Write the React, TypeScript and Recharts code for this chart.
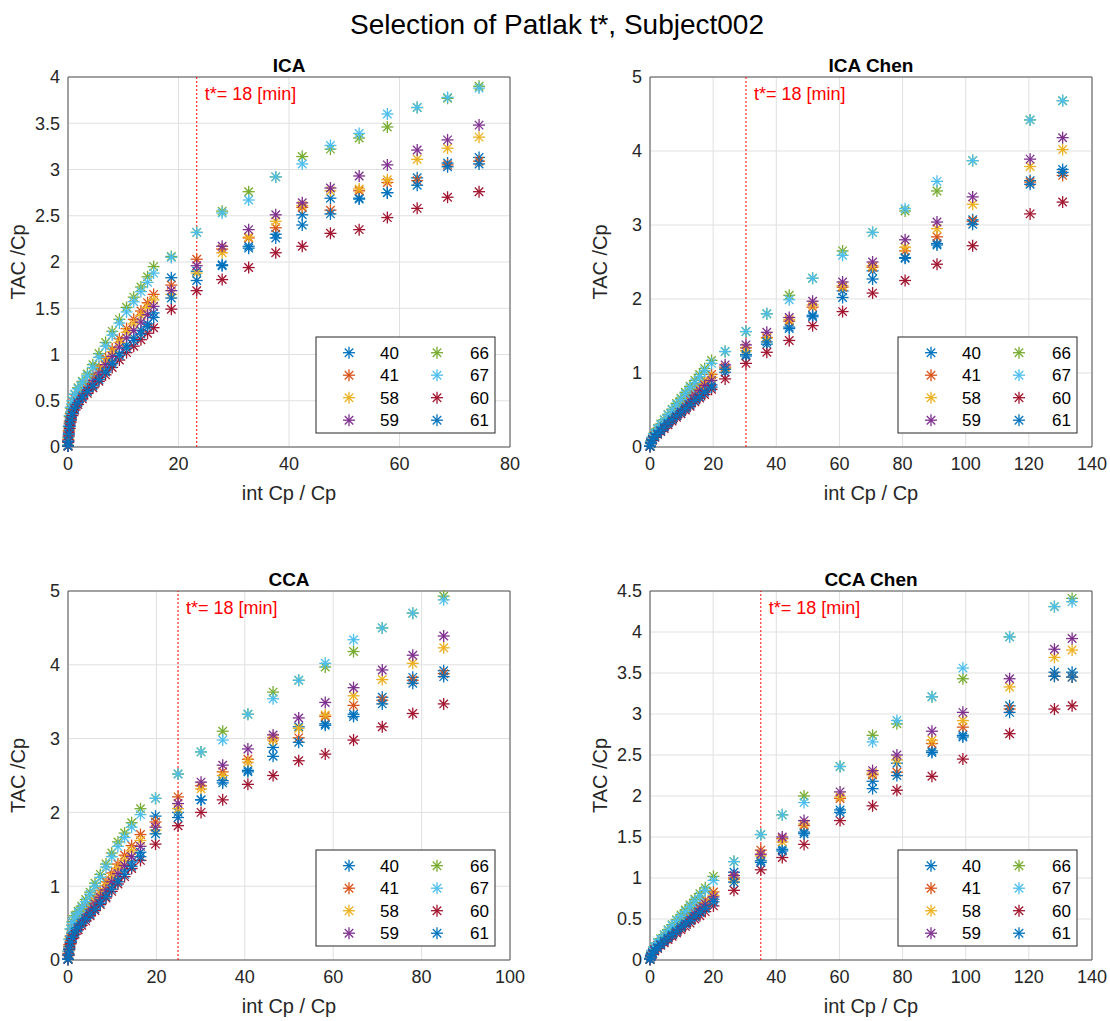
import React from "react";
import {
  ScatterChart,
  Scatter,
  XAxis,
  YAxis,
  CartesianGrid,
  ReferenceLine,
  ReferenceArea,
} from "recharts";

const FONT = '"Liberation Sans", Arial, Helvetica, sans-serif';

const NAMES = ["40", "41", "58", "59", "66", "67", "60", "61"];
const COLORS = ["#0072BD", "#D95319", "#EDB120", "#7E2F8E", "#77AC30", "#4DBEEE", "#A2142F", "#0072BD"];

// ICA
const ICA_X = [0, 0.05, 0.15, 0.3, 0.5, 0.8, 1.2, 1.8, 2.6, 3.5, 4.5, 5.6, 6.8, 8.0, 9.3, 10.6, 11.9, 13.2, 14.4, 15.5, 18.7, 23.3, 27.9, 32.7, 37.6, 42.4, 47.5, 52.7, 57.8, 63.2, 68.7, 74.4];
const ICA_40 = [0.01, 0.06, 0.14, 0.23, 0.3, 0.37, 0.43, 0.49, 0.55, 0.61, 0.67, 0.75, 0.83, 0.92, 1.01, 1.1, 1.18, 1.26, 1.33, 1.45, 1.83, 1.9, 1.97, 2.17, 2.3, 2.51, 2.69, 2.69, 2.75, 2.91, 3.07, 3.13];
const ICA_41 = [0.01, 0.08, 0.18, 0.28, 0.36, 0.44, 0.52, 0.58, 0.63, 0.69, 0.77, 0.86, 0.96, 1.06, 1.17, 1.28, 1.38, 1.47, 1.56, 1.65, 1.75, 2.03, 2.14, 2.26, 2.37, 2.59, 2.56, 2.77, 2.86, 2.88, 3.05, 3.09];
const ICA_58 = [0.01, 0.07, 0.17, 0.26, 0.34, 0.42, 0.48, 0.55, 0.61, 0.67, 0.75, 0.84, 0.93, 1.03, 1.13, 1.24, 1.33, 1.42, 1.51, 1.59, 1.65, 1.88, 2.1, 2.27, 2.44, 2.61, 2.77, 2.79, 2.89, 3.11, 3.23, 3.35];
const ICA_59 = [0.01, 0.07, 0.16, 0.25, 0.32, 0.4, 0.46, 0.52, 0.58, 0.64, 0.72, 0.8, 0.89, 0.98, 1.08, 1.18, 1.26, 1.35, 1.43, 1.52, 1.69, 1.96, 2.17, 2.35, 2.51, 2.64, 2.8, 2.93, 3.05, 3.21, 3.32, 3.48];
const ICA_66 = [0.02, 0.1, 0.22, 0.33, 0.42, 0.5, 0.57, 0.64, 0.71, 0.79, 0.89, 1.01, 1.13, 1.25, 1.38, 1.51, 1.62, 1.73, 1.84, 1.95, 2.06, 2.32, 2.55, 2.76, 2.92, 3.14, 3.22, 3.34, 3.46, 3.67, 3.77, 3.9];
const ICA_67 = [0.02, 0.11, 0.23, 0.34, 0.43, 0.5, 0.57, 0.63, 0.7, 0.77, 0.86, 0.97, 1.09, 1.21, 1.34, 1.46, 1.57, 1.68, 1.78, 1.88, 2.05, 2.32, 2.53, 2.67, 2.92, 3.06, 3.26, 3.39, 3.6, 3.67, 3.78, 3.88];
const ICA_60 = [0.01, 0.05, 0.12, 0.2, 0.27, 0.34, 0.4, 0.46, 0.52, 0.58, 0.64, 0.71, 0.78, 0.86, 0.94, 1.02, 1.09, 1.16, 1.23, 1.29, 1.49, 1.69, 1.81, 1.94, 2.1, 2.17, 2.31, 2.35, 2.48, 2.58, 2.7, 2.76];
const ICA_61 = [0.01, 0.06, 0.14, 0.22, 0.29, 0.36, 0.42, 0.48, 0.54, 0.6, 0.66, 0.73, 0.81, 0.9, 0.99, 1.07, 1.15, 1.22, 1.3, 1.4, 1.61, 1.8, 1.96, 2.15, 2.26, 2.4, 2.52, 2.68, 2.75, 2.83, 3.03, 3.06];

// ICA Chen
const ICAC_X = [0, 0.3, 0.8, 1.5, 2.4, 3.4, 4.5, 5.7, 7.0, 8.4, 9.8, 11.2, 12.7, 14.2, 15.7, 17.3, 19.5, 23.8, 30.4, 37.0, 44.1, 51.5, 61.0, 70.5, 80.8, 90.9, 102.2, 120.4, 130.7];
const ICAC_40 = [0.01, 0.06, 0.1, 0.14, 0.19, 0.23, 0.28, 0.33, 0.38, 0.43, 0.49, 0.54, 0.6, 0.66, 0.71, 0.77, 0.84, 1.01, 1.23, 1.39, 1.62, 1.76, 2.11, 2.38, 2.56, 2.75, 3.07, 3.6, 3.75];
const ICAC_41 = [0.01, 0.07, 0.11, 0.16, 0.21, 0.26, 0.31, 0.37, 0.43, 0.5, 0.56, 0.62, 0.69, 0.76, 0.82, 0.89, 0.98, 1.08, 1.34, 1.48, 1.7, 1.89, 2.16, 2.43, 2.65, 2.84, 3.05, 3.58, 3.67];
const ICAC_58 = [0.01, 0.06, 0.11, 0.16, 0.21, 0.25, 0.3, 0.36, 0.42, 0.48, 0.54, 0.6, 0.66, 0.73, 0.79, 0.86, 0.94, 1.06, 1.3, 1.47, 1.72, 1.92, 2.18, 2.45, 2.7, 2.95, 3.28, 3.79, 4.02];
const ICAC_59 = [0.01, 0.06, 0.1, 0.15, 0.2, 0.25, 0.29, 0.35, 0.4, 0.46, 0.52, 0.58, 0.64, 0.7, 0.76, 0.83, 0.9, 1.11, 1.38, 1.55, 1.75, 1.97, 2.23, 2.5, 2.8, 3.04, 3.38, 3.89, 4.18];
const ICAC_66 = [0.02, 0.08, 0.13, 0.19, 0.25, 0.31, 0.37, 0.44, 0.51, 0.59, 0.66, 0.74, 0.82, 0.9, 0.98, 1.06, 1.17, 1.29, 1.56, 1.8, 2.05, 2.28, 2.65, 2.9, 3.19, 3.46, 3.87, 4.42, 4.68];
const ICAC_67 = [0.02, 0.08, 0.13, 0.18, 0.24, 0.3, 0.36, 0.43, 0.5, 0.57, 0.64, 0.72, 0.8, 0.87, 0.95, 1.03, 1.13, 1.29, 1.56, 1.8, 1.99, 2.28, 2.59, 2.9, 3.22, 3.59, 3.87, 4.42, 4.68];
const ICAC_60 = [0.01, 0.05, 0.09, 0.13, 0.17, 0.21, 0.25, 0.3, 0.35, 0.4, 0.45, 0.5, 0.55, 0.61, 0.66, 0.71, 0.78, 0.92, 1.13, 1.28, 1.44, 1.64, 1.83, 2.08, 2.25, 2.47, 2.72, 3.15, 3.31];
const ICAC_61 = [0.01, 0.05, 0.1, 0.14, 0.18, 0.22, 0.27, 0.32, 0.37, 0.42, 0.47, 0.52, 0.57, 0.63, 0.68, 0.74, 0.81, 1.05, 1.25, 1.42, 1.6, 1.78, 2.02, 2.27, 2.55, 2.73, 3.01, 3.55, 3.71];

// CCA
const CCA_X = [0, 0.1, 0.3, 0.6, 1.0, 1.6, 2.3, 3.1, 4.0, 5.0, 6.1, 7.3, 8.6, 9.9, 11.3, 12.8, 14.4, 16.4, 19.8, 24.9, 30.1, 35.0, 40.7, 46.4, 52.2, 58.2, 64.6, 71.1, 78.0, 85.0];
const CCA_40 = [0.01, 0.07, 0.16, 0.25, 0.33, 0.4, 0.46, 0.52, 0.58, 0.65, 0.72, 0.81, 0.91, 1.01, 1.11, 1.22, 1.33, 1.46, 1.95, 2.0, 2.17, 2.43, 2.57, 2.88, 3.16, 3.2, 3.33, 3.56, 3.83, 3.92];
const CCA_41 = [0.01, 0.09, 0.21, 0.32, 0.41, 0.48, 0.54, 0.6, 0.67, 0.75, 0.84, 0.94, 1.06, 1.18, 1.3, 1.42, 1.55, 1.7, 1.87, 2.21, 2.36, 2.55, 2.72, 3.01, 3.01, 3.3, 3.45, 3.52, 3.79, 3.88];
const CCA_58 = [0.01, 0.08, 0.19, 0.3, 0.38, 0.45, 0.51, 0.57, 0.64, 0.72, 0.8, 0.9, 1.01, 1.12, 1.24, 1.35, 1.48, 1.62, 1.76, 2.05, 2.32, 2.5, 2.68, 2.98, 3.14, 3.32, 3.58, 3.8, 4.02, 4.23];
const CCA_59 = [0.01, 0.08, 0.18, 0.28, 0.36, 0.43, 0.49, 0.55, 0.61, 0.68, 0.76, 0.85, 0.95, 1.06, 1.17, 1.28, 1.4, 1.54, 1.8, 2.12, 2.41, 2.64, 2.86, 3.05, 3.28, 3.49, 3.69, 3.93, 4.13, 4.39];
const CCA_66 = [0.02, 0.12, 0.28, 0.42, 0.52, 0.6, 0.66, 0.73, 0.82, 0.92, 1.04, 1.16, 1.3, 1.45, 1.6, 1.72, 1.86, 2.05, 2.19, 2.52, 2.82, 3.1, 3.33, 3.63, 3.79, 3.97, 4.18, 4.5, 4.7, 4.93];
const CCA_67 = [0.02, 0.12, 0.28, 0.42, 0.51, 0.58, 0.64, 0.71, 0.79, 0.89, 1.0, 1.12, 1.26, 1.4, 1.54, 1.66, 1.8, 1.97, 2.19, 2.52, 2.82, 2.98, 3.33, 3.54, 3.79, 4.02, 4.34, 4.5, 4.7, 4.88];
const CCA_60 = [0.01, 0.06, 0.14, 0.22, 0.29, 0.35, 0.41, 0.47, 0.53, 0.6, 0.67, 0.75, 0.84, 0.93, 1.03, 1.13, 1.24, 1.35, 1.57, 1.82, 2.0, 2.17, 2.38, 2.5, 2.7, 2.79, 2.98, 3.16, 3.34, 3.47];
const CCA_61 = [0.01, 0.07, 0.15, 0.24, 0.31, 0.38, 0.44, 0.5, 0.56, 0.62, 0.69, 0.77, 0.86, 0.96, 1.06, 1.16, 1.27, 1.4, 1.71, 1.93, 2.17, 2.4, 2.55, 2.76, 2.95, 3.18, 3.3, 3.47, 3.75, 3.84];

// CCA Chen
const CCAC_X = [0, 0.3, 0.8, 1.5, 2.4, 3.4, 4.5, 5.7, 7.0, 8.4, 9.8, 11.2, 12.7, 14.2, 15.8, 17.5, 20.1, 26.6, 35.1, 41.9, 48.8, 60.2, 70.5, 78.2, 89.3, 99.1, 113.9, 128.1, 133.7];
const CCAC_40 = [0.01, 0.05, 0.08, 0.12, 0.16, 0.2, 0.24, 0.28, 0.32, 0.37, 0.41, 0.46, 0.5, 0.55, 0.6, 0.65, 0.74, 1.07, 1.21, 1.35, 1.56, 1.83, 2.18, 2.4, 2.55, 2.74, 3.1, 3.51, 3.51];
const CCAC_41 = [0.01, 0.06, 0.09, 0.13, 0.18, 0.22, 0.26, 0.31, 0.36, 0.41, 0.46, 0.51, 0.56, 0.61, 0.67, 0.73, 0.83, 1.0, 1.34, 1.48, 1.64, 1.97, 2.26, 2.29, 2.64, 2.84, 3.06, 3.46, 3.45];
const CCAC_58 = [0.01, 0.05, 0.09, 0.13, 0.17, 0.21, 0.25, 0.3, 0.35, 0.4, 0.44, 0.49, 0.54, 0.59, 0.64, 0.7, 0.79, 0.98, 1.27, 1.44, 1.66, 1.99, 2.28, 2.44, 2.68, 2.92, 3.33, 3.69, 3.78];
const CCAC_59 = [0.01, 0.05, 0.09, 0.13, 0.17, 0.21, 0.25, 0.29, 0.34, 0.39, 0.43, 0.48, 0.53, 0.58, 0.63, 0.68, 0.77, 1.03, 1.29, 1.5, 1.7, 2.05, 2.31, 2.5, 2.79, 3.02, 3.43, 3.79, 3.92];
const CCAC_66 = [0.02, 0.07, 0.11, 0.16, 0.21, 0.26, 0.31, 0.37, 0.43, 0.49, 0.55, 0.61, 0.67, 0.74, 0.81, 0.88, 1.02, 1.2, 1.53, 1.77, 2.0, 2.36, 2.74, 2.88, 3.21, 3.43, 3.94, 4.31, 4.41];
const CCAC_67 = [0.02, 0.07, 0.11, 0.16, 0.21, 0.25, 0.3, 0.36, 0.42, 0.48, 0.53, 0.59, 0.65, 0.72, 0.78, 0.85, 0.97, 1.2, 1.53, 1.77, 1.92, 2.36, 2.66, 2.92, 3.21, 3.56, 3.94, 4.31, 4.37];
const CCAC_60 = [0.01, 0.04, 0.07, 0.11, 0.14, 0.18, 0.21, 0.25, 0.29, 0.33, 0.37, 0.41, 0.45, 0.5, 0.54, 0.59, 0.66, 0.85, 1.1, 1.25, 1.41, 1.7, 1.88, 2.07, 2.24, 2.45, 2.76, 3.06, 3.1];
const CCAC_61 = [0.01, 0.04, 0.08, 0.12, 0.15, 0.19, 0.23, 0.27, 0.31, 0.35, 0.4, 0.44, 0.48, 0.53, 0.58, 0.63, 0.71, 0.95, 1.19, 1.33, 1.54, 1.8, 2.09, 2.25, 2.53, 2.72, 3.02, 3.46, 3.45];

const ICA_XTICKS = [0, 20, 40, 60, 80];
const ICA_YTICKS = [0, 0.5, 1, 1.5, 2, 2.5, 3, 3.5, 4];
const ICAC_XTICKS = [0, 20, 40, 60, 80, 100, 120, 140];
const ICAC_YTICKS = [0, 1, 2, 3, 4, 5];
const CCA_XTICKS = [0, 20, 40, 60, 80, 100];
const CCA_YTICKS = [0, 1, 2, 3, 4, 5];
const CCAC_XTICKS = [0, 20, 40, 60, 80, 100, 120, 140];
const CCAC_YTICKS = [0, 0.5, 1, 1.5, 2, 2.5, 3, 3.5, 4, 4.5];

const T_LABEL = "t*= 18 [min]";

function Asterisk({ cx, cy, color, r = 6 }: { cx: number; cy: number; color: string; r?: number }) {
  if (cx == null || cy == null) return null;
  const d = r * 0.7071;
  return (
    <g stroke={color} strokeWidth={1.3} fill="none">
      <line x1={cx - r} y1={cy} x2={cx + r} y2={cy} />
      <line x1={cx} y1={cy - r} x2={cx} y2={cy + r} />
      <line x1={cx - d} y1={cy - d} x2={cx + d} y2={cy + d} />
      <line x1={cx - d} y1={cy + d} x2={cx + d} y2={cy - d} />
    </g>
  );
}

function TLabel(props: any) {
  const vb = props.viewBox || {};
  return (
    <text x={vb.x + 8} y={vb.y + 23} fill="#ff0000" fontSize={18}>
      {T_LABEL}
    </text>
  );
}

interface PanelProps {
  left: number;
  top: number;
  w: number;
  h: number;
  xs: number[];
  series: number[][];
  xTicks: number[];
  yTicks: number[];
  tStar: number;
}

function Panel({ left, top, w, h, xs, series, xTicks, yTicks, tStar }: PanelProps) {
  const xMax = xTicks[xTicks.length - 1];
  const yMax = yTicks[yTicks.length - 1];
  return (
    <div style={{ position: "absolute", left: left - 70, top: top - 10 }}>
      <ScatterChart width={w + 100} height={h + 50} margin={{ top: 10, right: 30, bottom: 0, left: 0 }}>
        <CartesianGrid stroke="#e0e0e0" />
        <XAxis
          type="number"
          dataKey="x"
          domain={[0, xMax]}
          ticks={xTicks}
          interval={0}
          height={40}
          tickLine={false}
          axisLine={false}
          tickMargin={4}
          tick={{ fontSize: 18, fill: "#262626" }}
        />
        <YAxis
          type="number"
          dataKey="y"
          domain={[0, yMax]}
          ticks={yTicks}
          interval={0}
          width={70}
          tickLine={false}
          axisLine={false}
          tickMargin={2}
          tick={{ fontSize: 18, fill: "#262626" }}
        />
        <ReferenceArea x1={0} x2={xMax} y1={0} y2={yMax} fill="none" stroke="#555" strokeWidth={1} fillOpacity={0} />
        <ReferenceLine x={tStar} stroke="#ff0000" strokeDasharray="2 2" strokeWidth={1} label={<TLabel />} />
        {series.map((ys, k) => (
          <Scatter
            key={NAMES[k]}
            name={NAMES[k]}
            data={xs.map((x, i) => ({ x, y: ys[i] }))}
            isAnimationActive={false}
            shape={(p: any) => <Asterisk cx={p.cx} cy={p.cy} color={COLORS[k]} />}
          />
        ))}
      </ScatterChart>
    </div>
  );
}

function Overlay({ left, top, w, h, title }: { left: number; top: number; w: number; h: number; title: string }) {
  const lw = 179;
  const lh = 96;
  const lx = left + w - 15 - lw;
  const ly = top + h - 14 - lh;
  return (
    <g>
      <text x={left + w / 2} y={top - 5} textAnchor="middle" fontSize={19} fontWeight="bold" fill="#000">
        {title}
      </text>
      <text x={left + w / 2} y={top + h + 53} textAnchor="middle" fontSize={20} fill="#262626">
        int Cp / Cp
      </text>
      <text
        transform={`translate(${left - 43}, ${top + h / 2}) rotate(-90)`}
        textAnchor="middle"
        fontSize={20}
        fill="#262626"
      >
        TAC /Cp
      </text>
      <rect x={lx} y={ly} width={lw} height={lh} fill="#fff" stroke="#262626" strokeWidth={1} />
      {NAMES.map((n, k) => {
        const col = Math.floor(k / 4);
        const row = k % 4;
        const cy = ly + 15.7 + row * 22.5;
        const mx = lx + (col === 0 ? 33 : 121);
        const tx = lx + (col === 0 ? 83 : 173);
        return (
          <g key={n}>
            <Asterisk cx={mx} cy={cy} color={COLORS[k]} />
            <text x={tx} y={cy + 6} textAnchor="end" fontSize={17} fill="#000">
              {n}
            </text>
          </g>
        );
      })}
    </g>
  );
}

const PANELS = [
  { title: "ICA", left: 68, top: 77, w: 442, h: 370, xs: ICA_X, series: [ICA_40, ICA_41, ICA_58, ICA_59, ICA_66, ICA_67, ICA_60, ICA_61], xTicks: ICA_XTICKS, yTicks: ICA_YTICKS, tStar: 23.3 },
  { title: "ICA Chen", left: 650, top: 77, w: 442, h: 370, xs: ICAC_X, series: [ICAC_40, ICAC_41, ICAC_58, ICAC_59, ICAC_66, ICAC_67, ICAC_60, ICAC_61], xTicks: ICAC_XTICKS, yTicks: ICAC_YTICKS, tStar: 30.4 },
  { title: "CCA", left: 68, top: 591, w: 442, h: 369, xs: CCA_X, series: [CCA_40, CCA_41, CCA_58, CCA_59, CCA_66, CCA_67, CCA_60, CCA_61], xTicks: CCA_XTICKS, yTicks: CCA_YTICKS, tStar: 24.9 },
  { title: "CCA Chen", left: 650, top: 591, w: 442, h: 369, xs: CCAC_X, series: [CCAC_40, CCAC_41, CCAC_58, CCAC_59, CCAC_66, CCAC_67, CCAC_60, CCAC_61], xTicks: CCAC_XTICKS, yTicks: CCAC_YTICKS, tStar: 35.1 },
];

export default function App() {
  return (
    <div style={{ position: "absolute", left: 0, top: 0, width: 1110, height: 1021, background: "#fff", fontFamily: FONT, overflow: "hidden" }}>
      {PANELS.map((p) => (
        <Panel key={p.title} {...p} />
      ))}
      <svg width={1110} height={1021} style={{ position: "absolute", left: 0, top: 0, pointerEvents: "none" }} fontFamily={FONT}>
        <text x={557} y={34} textAnchor="middle" fontSize={28} fill="#000">
          Selection of Patlak t*, Subject002
        </text>
        {PANELS.map((p) => (
          <Overlay key={p.title} left={p.left} top={p.top} w={p.w} h={p.h} title={p.title} />
        ))}
      </svg>
    </div>
  );
}
